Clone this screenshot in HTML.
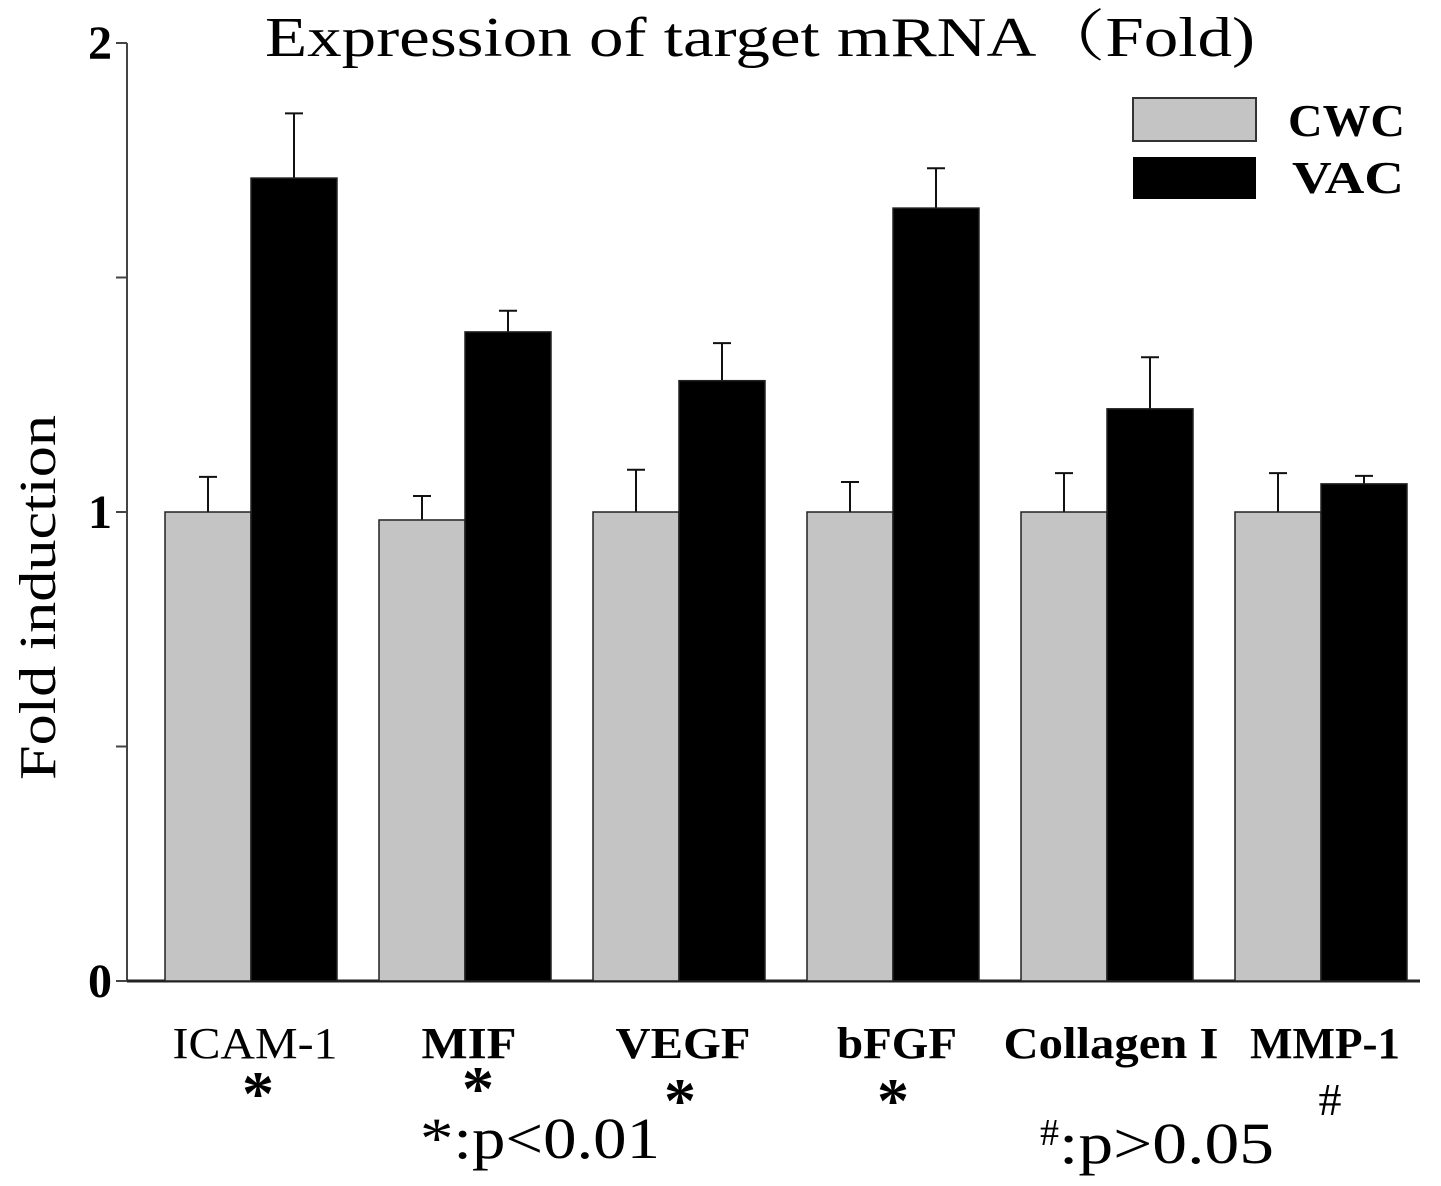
<!DOCTYPE html>
<html><head><meta charset="utf-8"><style>
body{margin:0;background:#fff;}
svg text{font-family:"Liberation Serif","Noto Serif CJK SC",serif;}
</style></head><body>
<svg id="chart" width="1441" height="1181" xmlns="http://www.w3.org/2000/svg">
<text x="265" y="56" font-size="56" textLength="990" lengthAdjust="spacingAndGlyphs">Expression of  target mRNA（Fold)</text>
<text transform="translate(55,780) rotate(-90)" font-size="52" textLength="365" lengthAdjust="spacingAndGlyphs">Fold induction</text>
<g id="axes"></g><g id="bars"></g>
<g>
<rect x="1133" y="98" width="123" height="43" fill="#c4c4c4" stroke="#333" stroke-width="2"/>
<text x="1288" y="136" font-size="46" font-weight="bold" textLength="117" lengthAdjust="spacingAndGlyphs">CWC</text>
<rect x="1133" y="157" width="123" height="42" fill="#000"/>
<text x="1292" y="193" font-size="46" font-weight="bold" textLength="112" lengthAdjust="spacingAndGlyphs">VAC</text>
</g>
<g font-weight="bold" text-anchor="middle">
<text x="258" y="1115" font-size="64">*</text>
<text x="478" y="1110" font-size="64">*</text>
<text x="680" y="1122" font-size="64">*</text>
<text x="893" y="1122" font-size="64">*</text>
<text x="1330" y="1115" font-size="46" font-weight="normal">#</text>
</g>
<text x="420" y="1158" font-size="58" textLength="240" lengthAdjust="spacingAndGlyphs">*:p&lt;0.01</text>
<text x="1040" y="1163" font-size="58"><tspan font-size="38" dy="-18">#</tspan><tspan dy="18" textLength="215" lengthAdjust="spacingAndGlyphs">:p&gt;0.05</tspan></text>
</svg>
<script>
const categories=["ICAM-1","MIF","VEGF","bFGF","Collagen I","MMP-1"];
const cwcValues=[1.0,0.983,1.0,1.0,1.0,1.0];
const cwcErrors=[0.075,0.051,0.09,0.064,0.083,0.083];
const vacValues=[1.712,1.384,1.28,1.648,1.22,1.06];
const vacErrors=[0.138,0.045,0.08,0.085,0.11,0.017];
const yTicks=[0,0.5,1,1.5,2];
const yTickLabels=["0","","1","","2"];
const labelWidths=[165,95,135,120,215,150];
const NS="http://www.w3.org/2000/svg";
const y0=981,yScale=469,x0=127;
const Y=v=>y0-v*yScale;
const gx=i=>165+i*214;
function mk(tag,attrs,parent){const e=document.createElementNS(NS,tag);for(const k in attrs)e.setAttribute(k,attrs[k]);parent.appendChild(e);return e;}
const axes=document.getElementById('axes'),bars=document.getElementById('bars');
let l=mk('line',{x1:x0,y1:Y(2),x2:x0,y2:y0,stroke:'#444','stroke-width':2},axes);


l=mk('line',{x1:x0,y1:y0,x2:1420,y2:y0,stroke:'#222','stroke-width':3},axes);


yTicks.forEach((t,i)=>{
 const tk=mk('line',{x1:x0-11,y1:Y(t),x2:x0,y2:Y(t),stroke:'#444','stroke-width':2},axes);
 
 
 if(yTickLabels[i]){const tx=mk('text',{x:x0-15,y:Y(t)+16,'font-size':48,'font-weight':'bold','text-anchor':'end'},axes);tx.textContent=yTickLabels[i];
 
 }
});
categories.forEach((c,i)=>{
 const x=gx(i);
 [[cwcValues,cwcErrors,'#c4c4c4',x,'cwc'],[vacValues,vacErrors,'#000',x+86,'vac']].forEach(([vals,errs,fill,bx,s])=>{
  const v=vals[i],e=errs[i],cx=bx+43;
  const er=mk('line',{x1:cx,y1:Y(v),x2:cx,y2:Y(v+e),stroke:'#111','stroke-width':2},bars);
  
  
  const cap=mk('line',{x1:cx-9,y1:Y(v+e),x2:cx+9,y2:Y(v+e),stroke:'#111','stroke-width':2},bars);
  
  
  const r=mk('rect',{x:bx,y:Y(v),width:86,height:y0-Y(v),fill:fill,stroke:'#222','stroke-width':1.5},bars);
  
  
 });
 const t=mk('text',{x:x+90,y:1058,'font-size':44,'font-weight':i==0?'normal':'bold','text-anchor':'middle',textLength:labelWidths[i],lengthAdjust:'spacingAndGlyphs'},bars);
 t.textContent=c;
 
 
});
</script>
</body></html>
